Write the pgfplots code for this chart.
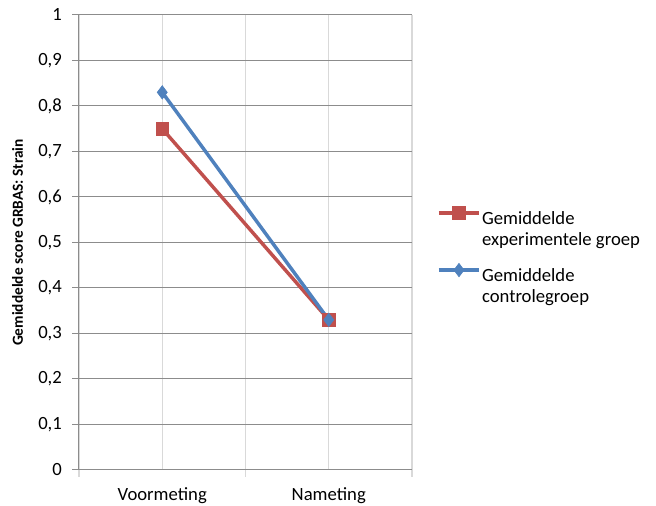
\documentclass[border=0pt]{standalone}
\usepackage{pgfplots}
\pgfplotsset{compat=1.18}
\usepackage{fontspec}
\setmainfont{Carlito}
\definecolor{exred}{HTML}{C0504D}
\definecolor{ctblue}{HTML}{4F81BD}
\definecolor{hgrid}{HTML}{8C8C8C}
\definecolor{vgrid}{HTML}{D9D9D9}
\newcommand{\lentry}[2]{\begin{tabular}[t]{@{}l@{}}#1\\[-1pt]#2\end{tabular}}
\begin{document}
\fontsize{14}{17}\selectfont
\begin{tikzpicture}
\useasboundingbox (0,0) rectangle (492pt,379.5pt);
\begin{axis}[
    at={(59.25pt,27pt)}, anchor=south west,
    scale only axis,
    width=249.75pt, height=341.25pt,
    xmin=-0.5, xmax=1.5,
    ymin=0, ymax=1,
    axis x line*=bottom, axis y line*=left,
    axis line style={hgrid, line width=0.75pt, -},
    xtick={0,1},
    xticklabels={Voormeting, Nameting},
    minor xtick={-0.5,0.5,1.5},
    major x tick style={draw=none},
    minor x tick style={vgrid, line width=1pt},
    ytick={0,0.1,...,1},
    y tick style={hgrid, line width=0.75pt},
    tick align=outside,
    major tick length=5pt, minor tick length=5pt,
    xmajorgrids, xminorgrids, ymajorgrids,
    x grid style={vgrid, line width=1pt},
    y grid style={hgrid, line width=0.75pt},
    /pgf/number format/assume math mode=true,
    tick label style={font=\fontsize{14}{17}\selectfont, black},
    xticklabel style={yshift=-3pt},
    yticklabel style={xshift=-3pt, /pgf/number format/.cd, use comma, fixed, precision=1},
    ylabel={\bfseries Gemiddelde score GRBAS: Strain},
    ylabel style={font=\fontsize{11.5}{14}\selectfont, yshift=2pt},
    legend style={at={(1.063,0.585)}, anchor=north west, draw=none, fill=none,
        font=\fontsize{14}{17}\selectfont,
        nodes={inner sep=1pt},
        row sep=26pt},
    legend cell align=left,
    legend image code/.code={
        \draw[#1] (0cm,0.55ex) -- (30pt,0.55ex);
        \draw[#1, mark repeat=2, mark phase=2] plot coordinates {(0pt,0.55ex) (15pt,0.55ex) (30pt,0.55ex)};
    },
    clip=false,
]
\addplot[exred, line width=2.6pt, mark=square*, mark size=4.8pt, mark options={solid, line width=0.5pt}]
    coordinates {(0,0.75) (1,0.33)};
\addlegendentry{\lentry{Gemiddelde}{experimentele groep}}
\addplot[ctblue, line width=2.6pt, mark=diamond*, mark size=5pt, mark options={solid, line width=0.5pt}]
    coordinates {(0,0.83) (1,0.33)};
\addlegendentry{\lentry{Gemiddelde}{controlegroep}}
\end{axis}
\end{tikzpicture}
\end{document}
